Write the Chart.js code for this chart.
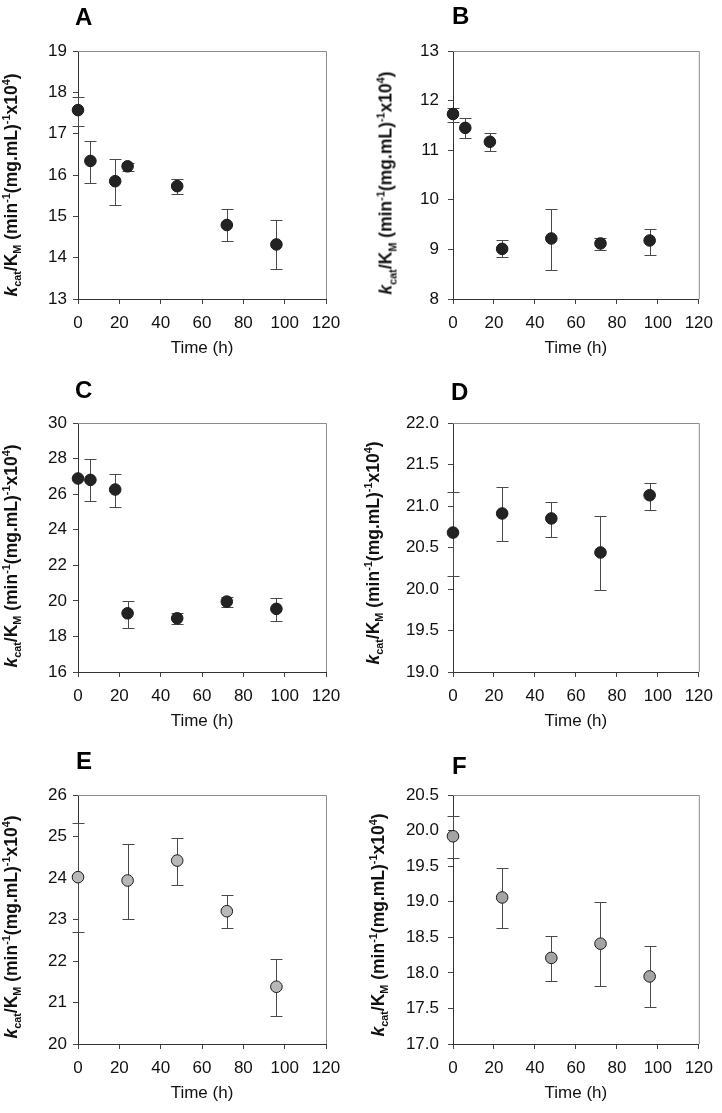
<!DOCTYPE html>
<html><head><meta charset="utf-8">
<script src="https://cdn.jsdelivr.net/npm/chart.js@4.4.1/dist/chart.umd.min.js"></script>
<style>
html,body{margin:0;padding:0;background:#fff;}
#wrap{position:relative;width:722px;height:1113px;overflow:hidden;font-family:"Liberation Sans",Arial,sans-serif;}
canvas{position:absolute;}
.letter{position:absolute;font-weight:bold;font-size:24px;line-height:24px;color:#000;z-index:2;}
.ytitle{position:absolute;white-space:nowrap;font-weight:bold;font-size:17.5px;line-height:17px;color:#111;transform:translate(-50%,-50%) rotate(-90deg);z-index:2;}
.ytitle sub,.ytitle sup{font-size:62%;line-height:0;}
</style></head>
<body><div id="wrap"></div>
<script>
// ---- data ----
const panelLetters = ['A','B','C','D','E','F'];
const xTickRange = [0, 120, 20];
const xTitle = 'Time (h)';

const timesA = [0, 6, 18, 24, 48, 72, 96];
const valuesA = [17.57, 16.34, 15.85, 16.21, 15.73, 14.79, 14.32];
const upperA = [17.89, 16.83, 16.38, 16.28, 15.90, 15.17, 14.90];
const lowerA = [17.19, 15.81, 15.28, 16.10, 15.53, 14.40, 13.73];
const yRangeA = [13, 19, 1];

const timesB = [0, 6, 18, 24, 48, 72, 96];
const valuesB = [11.73, 11.45, 11.17, 9.01, 9.22, 9.12, 9.18];
const upperB = [11.86, 11.64, 11.34, 9.18, 9.81, 9.23, 9.42];
const lowerB = [11.57, 11.24, 10.99, 8.85, 8.58, 8.98, 8.88];
const yRangeB = [8, 13, 1];

const timesC = [0, 6, 18, 24, 48, 72, 96];
const valuesC = [26.88, 26.80, 26.26, 19.30, 19.02, 19.96, 19.55];
const upperC = [26.88, 27.95, 27.16, 20.02, 19.29, 20.23, 20.17];
const lowerC = [26.88, 25.62, 25.28, 18.50, 18.70, 19.64, 18.85];
const yRangeC = [16, 30, 2];

const timesD = [0, 24, 48, 72, 96];
const valuesD = [20.68, 20.91, 20.85, 20.44, 21.13];
const upperD = [21.17, 21.23, 21.05, 20.88, 21.28];
const lowerD = [20.16, 20.58, 20.63, 19.99, 20.95];
const yRangeD = [19, 22, 0.5];

const timesE = [0, 24, 48, 72, 96];
const valuesE = [24.02, 23.94, 24.42, 23.20, 21.38];
const upperE = [25.33, 24.81, 24.97, 23.60, 22.06];
const lowerE = [22.70, 23.02, 23.83, 22.79, 20.67];
const yRangeE = [20, 26, 1];

const timesF = [0, 24, 48, 72, 96];
const valuesF = [19.92, 19.06, 18.21, 18.41, 17.95];
const upperF = [20.21, 19.47, 18.52, 18.99, 18.38];
const lowerF = [19.62, 18.63, 17.89, 17.82, 17.52];
const yRangeF = [17, 20.5, 0.5];

// ---- layout / style ----
const W = 361, H = 371;
const panels = [
  {t:timesA, v:valuesA, hi:upperA, lo:lowerA, r:yRangeA, dec:0, ox:0,   oy:0,   box:[78,51,326,299], fill:'#232323', letter:[75,5],   yt:[11,185]},
  {t:timesB, v:valuesB, hi:upperB, lo:lowerB, r:yRangeB, dec:0, ox:361, oy:0,   box:[92,51,341,299], fill:'#232323', letter:[452,4],  yt:[386,183]},
  {t:timesC, v:valuesC, hi:upperC, lo:lowerC, r:yRangeC, dec:0, ox:0,   oy:371, box:[78,52,326,301], fill:'#232323', letter:[75,378], yt:[11,556]},
  {t:timesD, v:valuesD, hi:upperD, lo:lowerD, r:yRangeD, dec:1, ox:361, oy:371, box:[92,52,341,301], fill:'#232323', letter:[451,380],yt:[373,553]},
  {t:timesE, v:valuesE, hi:upperE, lo:lowerE, r:yRangeE, dec:0, ox:0,   oy:742, box:[78,53,326,302], fill:'#b8b8b8', letter:[76,749], yt:[11,927]},
  {t:timesF, v:valuesF, hi:upperF, lo:lowerF, r:yRangeF, dec:1, ox:361, oy:742, box:[92,53,341,302], fill:'#a4a4a4', letter:[452,754],yt:[378,925]}
];
const FONT = '"Liberation Sans", Arial, sans-serif';
const FS = 17;
const wrap = document.getElementById('wrap');
const yTitleHTML = '<i>k</i><sub>cat</sub>/K<sub>M</sub> (min<sup>-1</sup>(mg.mL)<sup>-1</sup>x10<sup>4</sup>)';

panels.forEach((p, idx) => {
  const cv = document.createElement('canvas');
  cv.width = W; cv.height = H;
  cv.style.left = p.ox + 'px'; cv.style.top = p.oy + 'px';
  wrap.appendChild(cv);

  const lt = document.createElement('div');
  lt.className = 'letter'; lt.textContent = panelLetters[idx];
  lt.style.left = p.letter[0] + 'px'; lt.style.top = p.letter[1] + 'px';
  wrap.appendChild(lt);

  const yt = document.createElement('div');
  yt.className = 'ytitle'; yt.innerHTML = yTitleHTML;
  yt.style.left = p.yt[0] + 'px'; yt.style.top = p.yt[1] + 'px';
  wrap.appendChild(yt);

  const [L, T, R, B] = p.box;
  const errorBars = {
    id: 'errorBars' + idx,
    beforeDatasetsDraw(chart) {
      const {ctx, chartArea: a, scales: {x, y}} = chart;
      ctx.save();
      ctx.strokeStyle = '#8c8c8c'; ctx.lineWidth = 1;
      ctx.beginPath();
      ctx.moveTo(a.left, a.top + 0.5); ctx.lineTo(a.right + 0.5, a.top + 0.5);
      ctx.lineTo(a.right + 0.5, a.bottom);
      ctx.stroke();
      ctx.strokeStyle = '#4a4a4a';
      p.t.forEach((tv, i) => {
        if (p.hi[i] === p.lo[i]) return;
        const px = Math.round(x.getPixelForValue(tv)) + 0.5;
        const y1 = Math.round(y.getPixelForValue(p.hi[i])) + 0.5;
        const y2 = Math.round(y.getPixelForValue(p.lo[i])) + 0.5;
        ctx.beginPath();
        ctx.moveTo(px, y1); ctx.lineTo(px, y2);
        ctx.moveTo(px - 6, y1); ctx.lineTo(px + 6, y1);
        ctx.moveTo(px - 6, y2); ctx.lineTo(px + 6, y2);
        ctx.stroke();
      });
      ctx.restore();
    }
  };

  const titlePadBottom = H - FS * 0.6 - B - 49.5;

  new Chart(cv, {
    type: 'scatter',
    data: {datasets: [{
      data: p.t.map((tv, i) => ({x: tv, y: p.v[i]})),
      pointRadius: 5.8, pointHoverRadius: 5.8,
      pointBackgroundColor: p.fill, pointBorderColor: '#1a1a1a', pointBorderWidth: 1,
      showLine: false, clip: false
    }]},
    options: {
      responsive: false, animation: false, devicePixelRatio: 1,
      events: [],
      layout: {padding: {left: 0, top: T, right: W - R, bottom: 0}},
      plugins: {legend: {display: false}, tooltip: {enabled: false}},
      scales: {
        x: {
          type: 'linear', min: xTickRange[0], max: xTickRange[1],
          ticks: {stepSize: xTickRange[2], autoSkip: false, maxRotation: 0, padding: 9,
                  color: '#111', font: {family: FONT, size: FS}},
          grid: {drawOnChartArea: false, tickLength: 5, color: '#444'},
          border: {color: '#333', width: 1},
          title: {display: true, text: xTitle, color: '#111', font: {family: FONT, size: FS},
                  padding: {top: 0, bottom: titlePadBottom}},
          afterFit: s => { s.height = H - B; }
        },
        y: {
          type: 'linear', min: p.r[0], max: p.r[1],
          ticks: {stepSize: p.r[2], autoSkip: false, padding: (idx % 2 === 0) ? 6 : 9,
                  color: '#111', font: {family: FONT, size: FS},
                  callback: v => Number(v).toFixed(p.dec)},
          grid: {drawOnChartArea: false, tickLength: 5, color: '#444'},
          border: {color: '#333', width: 1},
          afterFit: s => { s.width = L; }
        }
      }
    },
    plugins: [errorBars]
  });
});
</script>
</body></html>
